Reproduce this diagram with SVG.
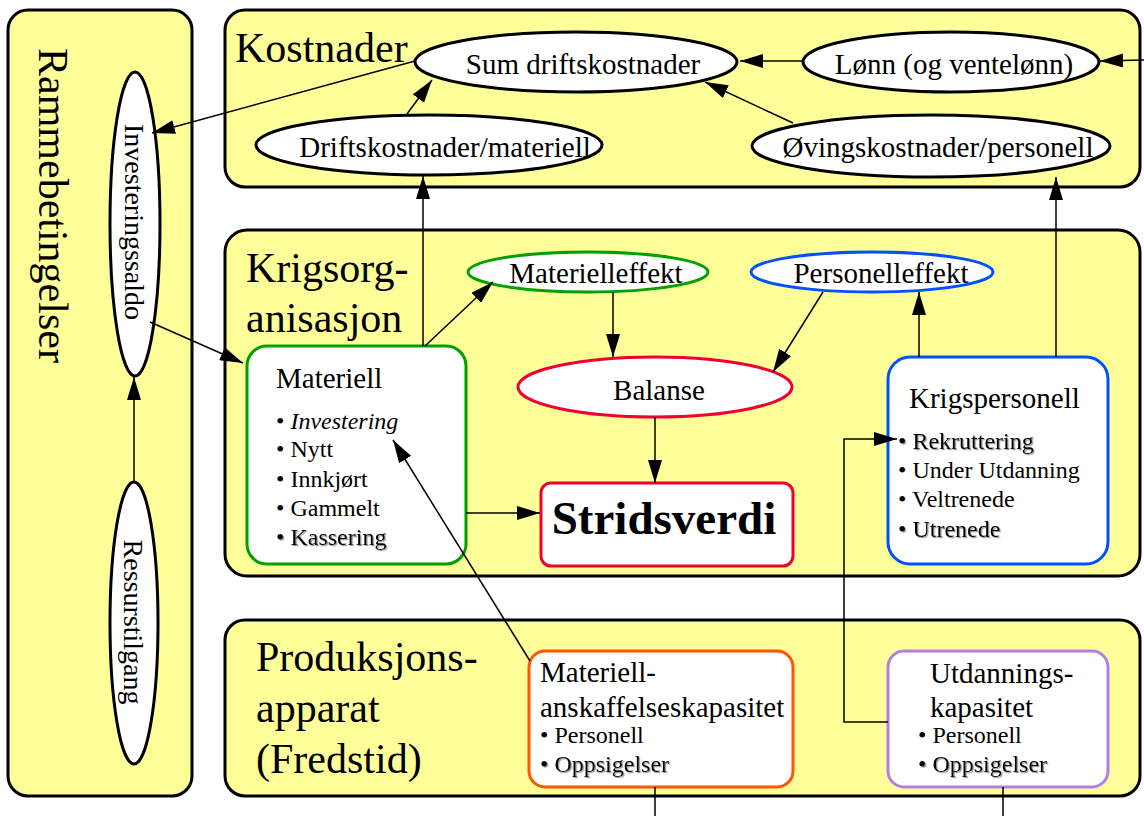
<svg xmlns="http://www.w3.org/2000/svg" width="1144" height="816" viewBox="0 0 1144 816">
<style>
text{font-family:"Liberation Serif","Times New Roman",serif;fill:#000}
.panel{fill:#FFFF99;stroke:#000;stroke-width:3}
.ell{fill:#fff;stroke:#000;stroke-width:3}
.box{fill:#fff;stroke-width:3}
.title{font-size:42px}
.lbl{font-size:29px}
.bul{font-size:24px}
.c{stroke:#000;stroke-width:1.5;fill:none}
.a{marker-end:url(#ah)}
.sh{filter:url(#shadow)}
</style>
<defs>
<marker id="ah" markerUnits="userSpaceOnUse" markerWidth="23" markerHeight="14" refX="23" refY="7" orient="auto">
<path d="M0,0 L23,7 L0,14 z" fill="#000"/>
</marker>
<filter id="shadow" x="-5%" y="-20%" width="115%" height="150%">
<feDropShadow dx="1.2" dy="1.2" stdDeviation="0.6" flood-color="#777" flood-opacity="0.8"/>
</filter>
</defs>

<g id="panel-rammebetingelser">
<rect class="panel" x="8" y="10" width="184" height="786" rx="20"/>
<text class="title" transform="translate(39,48) rotate(90)">Rammebetingelser</text>
</g>
<g id="panel-kostnader">
<rect class="panel" x="225" y="10" width="915" height="177" rx="20"/>
<text class="title" x="235" y="62">Kostnader</text>
</g>
<g id="panel-krigsorganisasjon">
<rect class="panel" x="225" y="230" width="915" height="346" rx="22"/>
<text class="title" x="246" y="282">Krigsorg-</text>
<text class="title" x="246" y="332">anisasjon</text>
</g>
<g id="panel-produksjonsapparat">
<rect class="panel" x="225" y="620" width="915" height="176" rx="20"/>
<text class="title" x="256" y="671">Produksjons-</text>
<text class="title" x="256" y="722">apparat</text>
<text class="title" x="256" y="773">(Fredstid)</text>
</g>

<g id="node-investeringssaldo">
<ellipse class="ell" cx="135" cy="224" rx="25" ry="152"/>
<text text-anchor="middle" transform="translate(135,222) rotate(90)" y="10" style="font-size:28px">Investeringssaldo</text>
</g>
<g id="node-ressurstilgang">
<ellipse class="ell" cx="134" cy="623" rx="24" ry="141"/>
<text text-anchor="middle" transform="translate(134,622) rotate(90)" y="10" style="font-size:28px">Ressurstilgang</text>
</g>

<g id="node-sum-driftskostnader">
<ellipse class="ell" cx="576" cy="62" rx="161" ry="30"/>
<text class="lbl" x="583" y="74" text-anchor="middle">Sum driftskostnader</text>
</g>
<g id="node-lonn">
<ellipse class="ell" cx="951" cy="62" rx="148" ry="30"/>
<text class="lbl" x="954" y="74" text-anchor="middle">Lønn (og ventelønn)</text>
</g>
<g id="node-driftskostnader-materiell">
<ellipse class="ell" cx="429" cy="145" rx="173" ry="30"/>
<text class="lbl" x="445" y="157" text-anchor="middle">Driftskostnader/materiell</text>
</g>
<g id="node-ovingskostnader-personell">
<ellipse class="ell" cx="931" cy="146" rx="179" ry="31"/>
<text class="lbl" x="938" y="157" text-anchor="middle">Øvingskostnader/personell</text>
</g>

<g id="node-materielleffekt">
<ellipse class="ell" cx="588" cy="272" rx="120" ry="20" style="stroke:#00A000"/>
<text class="lbl" x="596" y="283" text-anchor="middle">Materielleffekt</text>
</g>
<g id="node-personelleffekt">
<ellipse class="ell" cx="872" cy="272" rx="121" ry="20" style="stroke:#0050FF"/>
<text class="lbl" x="881" y="283" text-anchor="middle">Personelleffekt</text>
</g>
<g id="node-balanse">
<ellipse class="ell" cx="655" cy="387" rx="137" ry="30" style="stroke:#F00030"/>
<text class="lbl" x="659" y="400" text-anchor="middle">Balanse</text>
</g>
<g id="node-stridsverdi">
<rect class="box" x="541" y="483" width="252" height="83" rx="10" stroke="#F00030"/>
<text x="664" y="534" text-anchor="middle" style="font-size:47px;font-weight:bold">Stridsverdi</text>
</g>
<g id="node-materiell">
<rect class="box" x="247" y="346" width="219" height="218" rx="20" stroke="#00A000"/>
<text class="lbl" x="276" y="388">Materiell</text>
<text class="bul" x="276" y="429">• <tspan font-style="italic">Investering</tspan></text>
<text class="bul" x="276" y="457">• Nytt</text>
<text class="bul" x="276" y="487">• Innkjørt</text>
<text class="bul" x="276" y="516">• Gammelt</text>
<text class="bul sh" x="276" y="545">• Kassering</text>
</g>
<g id="node-krigspersonell">
<rect class="box" x="888" y="357" width="220" height="207" rx="22" stroke="#0050FF"/>
<text class="lbl" x="909" y="408">Krigspersonell</text>
<text class="bul sh" x="898" y="449">• Rekruttering</text>
<text class="bul" x="898" y="478">• Under Utdanning</text>
<text class="bul" x="898" y="507">• Veltrenede</text>
<text class="bul sh" x="898" y="537">• Utrenede</text>
</g>

<g id="node-materiellanskaffelseskapasitet">
<rect class="box" x="529" y="651" width="264" height="136" rx="16" stroke="#FF5500"/>
<text class="lbl" x="540" y="682">Materiell-</text>
<text class="lbl" x="540" y="717">anskaffelseskapasitet</text>
<text class="bul" x="540" y="743">• Personell</text>
<text class="bul sh" x="540" y="772">• Oppsigelser</text>
</g>
<g id="node-utdanningskapasitet">
<rect class="box" x="888" y="651" width="220" height="136" rx="16" stroke="#B57EE6"/>
<text class="lbl" x="930" y="683">Utdannings-</text>
<text class="lbl" x="930" y="717">kapasitet</text>
<text class="bul" x="918" y="743">• Personell</text>
<text class="bul sh" x="918" y="772">• Oppsigelser</text>
</g>

<g id="connectors">
<line class="c a" x1="134" y1="483" x2="134" y2="377"/>
<line class="c a" x1="150" y1="322" x2="243" y2="363"/>
<line class="c a" x1="415" y1="61" x2="152" y2="133"/>
<line class="c a" x1="407" y1="114" x2="432" y2="80"/>
<line class="c a" x1="793" y1="123" x2="705" y2="82"/>
<line class="c a" x1="803" y1="61" x2="740" y2="61"/>
<line class="c a" x1="1144" y1="60" x2="1100" y2="61"/>
<line class="c a" x1="423" y1="346" x2="423" y2="176"/>
<line class="c a" x1="1056" y1="357" x2="1056" y2="177"/>
<line class="c a" x1="425" y1="346" x2="493" y2="282"/>
<line class="c a" x1="613" y1="292" x2="613" y2="357"/>
<line class="c a" x1="823" y1="292" x2="773" y2="372"/>
<line class="c a" x1="919" y1="357" x2="919" y2="292"/>
<line class="c a" x1="655" y1="417" x2="655" y2="483"/>
<line class="c a" x1="466" y1="513" x2="540" y2="513"/>
<polyline class="c a" points="888,722 844,722 844,439 897,439"/>
<line class="c a" x1="530" y1="661" x2="393" y2="440"/>
<line class="c" x1="655" y1="787" x2="655" y2="816"/>
<line class="c" x1="1003" y1="787" x2="1003" y2="816"/>
</g>
</svg>
